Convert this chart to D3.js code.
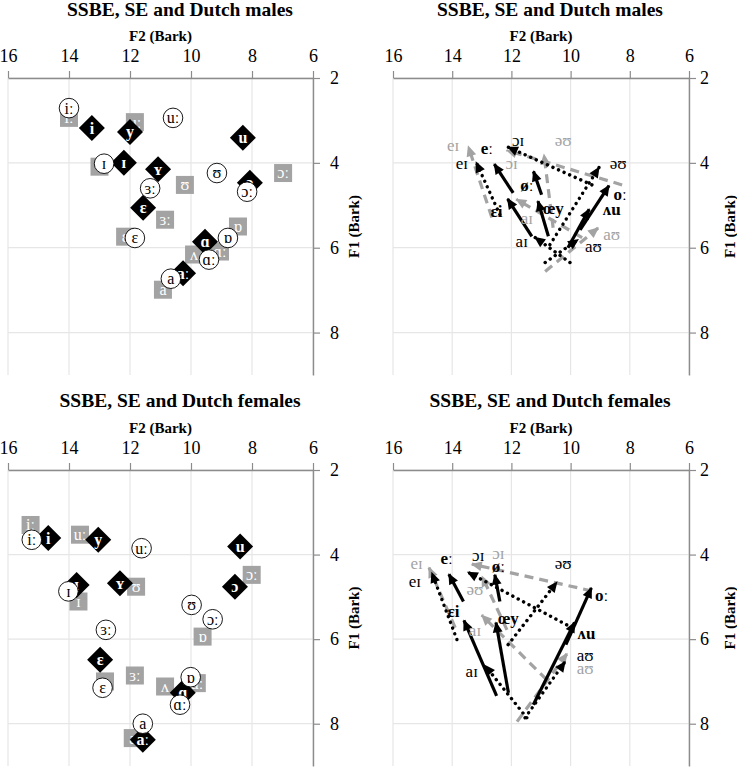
<!DOCTYPE html>
<html><head><meta charset="utf-8">
<script src="https://cdn.jsdelivr.net/npm/d3@7"></script>
<style>
body{margin:0;background:#fff}
svg text{font-family:"Liberation Serif","DejaVu Serif","Times New Roman",serif !important}
</style>
</head><body>
<svg id="c" width="737" height="767"></svg>
<script>
// ---------- data ----------
const f2Ticks = [16, 14, 12, 10, 8, 6];
const f1Ticks = [2, 4, 6, 8];
const f2Domain = [16, 6];
const f1Domain = [2, 9];
const titles = ["SSBE, SE and Dutch males", "SSBE, SE and Dutch males",
                "SSBE, SE and Dutch females", "SSBE, SE and Dutch females"];
const xTitle = "F2 (Bark)";
const yTitle = "F1 (Bark)";

// monophthongs: [vowel, F2, F1]
const maleSSBE = [["iː",14.0,2.71],["uː",10.59,2.94],["ɪ",12.85,4.02],["ʊ",9.15,4.24],["ɔː",8.16,4.68],
  ["ɜː",11.34,4.6],["ɛ",11.84,5.77],["ɒ",8.79,5.77],["ɑː",9.41,6.28],["a",10.66,6.73]];
const maleSE = [["iː",14.0,2.94],["uː",11.84,3.04],["ɪ",13.0,4.09],["ʊ",10.2,4.52],["ɔː",6.98,4.24],
  ["ɜː",10.85,5.34],["ɛ",12.16,5.74],["ɒ",8.46,5.5],["ɑː",9.05,6.09],["ʌ",9.9,6.16],["a",10.92,6.99]];
const maleDutch = [["i",13.25,3.18],["y",12.0,3.27],["u",8.3,3.41],["ɪ",12.2,4.0],["ʏ",11.08,4.15],
  ["ɔ",8.07,4.47],["ɛ",11.57,5.06],["ɑ",9.54,5.86],["aː",10.26,6.6]];

const femaleSSBE = [["iː",15.22,3.65],["uː",11.62,3.85],["ɪ",14.02,4.87],["ʊ",9.98,5.19],["ɔː",9.29,5.53],
  ["ɜː",12.79,5.78],["ɛ",12.9,7.15],["ɒ",10.01,6.9],["ɑː",10.36,7.55],["a",11.58,8.0]];
const femaleSE = [["iː",15.26,3.3],["uː",13.64,3.53],["ɪ",13.69,5.11],["ʊ",11.8,4.76],["ɔː",8.01,4.48],
  ["ɒ",9.62,5.94],["ɛ",12.82,7.0],["ɜː",11.84,6.86],["ʌ",10.85,7.12],["ɑː",9.81,7.04],["a",11.91,8.34]];
const femaleDutch = [["i",14.68,3.61],["y",13.04,3.65],["u",8.39,3.81],["ɪ",13.75,4.72],["ʏ",12.33,4.68],
  ["ɔ",8.56,4.76],["ɛ",12.98,6.49],["ɑ",10.27,7.27],["aː",11.58,8.38]];

// diphthongs: [vowel, startF2, startF1, endF2, endF1, labelF2, labelF1]
const maleDiphSSBE = [["eɪ",12.39,5.22,13.26,3.88,13.67,4.0],["ɔɪ",9.28,4.52,12.27,3.58,11.77,3.46],
  ["əʊ",10.7,5.93,8.95,4.01,8.39,4.01],["aɪ",10.02,6.35,11.34,5.69,11.65,5.85],["aʊ",10.86,6.35,9.61,5.74,9.23,5.97]];
const maleDiphSE = [["eɪ",12.66,5.29,13.51,3.5,13.97,3.58],["ɔɪ",8.26,4.52,12.32,3.67,11.99,4.01],
  ["əʊ",10.59,5.53,10.92,3.69,10.25,3.46],["aɪ",9.61,5.76,11.98,4.8,11.48,5.3],["aʊ",10.86,6.56,8.94,5.46,8.61,5.69]];
const maleDiphDutch = [["eː",11.94,4.71,12.67,3.93,12.83,3.65],["øː",10.98,4.75,11.31,4.09,11.48,4.52],
  ["œy",10.75,5.73,11.15,4.79,10.58,5.07],["ɛi",11.31,5.73,12.22,4.75,12.5,5.15],
  ["ʌu",10.09,6.0,9.29,4.99,8.61,5.1],["oː",9.68,5.58,8.61,4.44,8.33,4.75]];

const femaleDiphSSBE = [["eɪ",13.84,6.01,14.75,4.32,15.26,4.64],["ɔɪ",9.95,5.73,13.62,4.36,13.12,4.01],
  ["əʊ",12.11,6.13,10.36,4.56,10.25,4.2],["aɪ",11.48,7.86,13.0,6.53,13.34,6.76],["aʊ",11.54,7.86,10.09,6.44,9.51,6.37]];
const femaleDiphSE = [["eɪ",13.9,5.73,14.85,4.2,15.2,4.2],["ɔɪ",9.28,4.86,13.5,4.2,12.44,3.97],
  ["əʊ",12.15,5.78,13.06,4.41,13.23,4.83],["aɪ",10.81,6.96,13.12,5.35,13.23,5.78],["aʊ",11.81,7.95,10.02,6.25,9.51,6.68]];
const femaleDiphDutch = [["eː",13.62,5.11,14.19,4.36,14.19,4.09],["øː",12.39,5.11,12.59,4.36,12.44,4.28],
  ["œy",12.1,7.27,12.55,5.49,12.1,5.5],["ɛi",12.5,7.34,13.67,5.45,13.96,5.35],
  ["ʌu",11.26,7.55,9.79,5.5,9.46,5.86],["oː",10.16,6.13,9.23,4.68,8.95,4.95]];

// ---------- layout ----------
const FONT = '"Liberation Serif","DejaVu Serif","Times New Roman",serif';
const svg = d3.select("#c");
const GRAY = "#a3a3a3", AXIS = "#8c8c8c", GRID = "#e6e6e6";
const panels = [
  {x0:8, x1:313, y0:78, y1:375, tx:180, ty:16, pad:10, kind:"mono", ssbe:maleSSBE, se:maleSE, du:maleDutch},
  {x0:393, x1:689, y0:78, y1:375, tx:550, ty:16, pad:4, kind:"diph", ssbe:maleDiphSSBE, se:maleDiphSE, du:maleDiphDutch},
  {x0:8, x1:313, y0:470, y1:766, tx:180, ty:407, pad:10, kind:"mono", ssbe:femaleSSBE, se:femaleSE, du:femaleDutch},
  {x0:393, x1:689, y0:470, y1:766, tx:550, ty:407, pad:4, kind:"diph", ssbe:femaleDiphSSBE, se:femaleDiphSE, du:femaleDiphDutch}
];

const defs = svg.append("defs");
function mk(id, color){
  defs.append("marker").attr("id", id).attr("viewBox","0 0 10 10").attr("refX",9).attr("refY",5)
    .attr("markerUnits","userSpaceOnUse").attr("markerWidth",12).attr("markerHeight",11).attr("orient","auto")
    .append("path").attr("d","M0,0.5 L10,5 L0,9.5 Z").attr("fill", color);
}
mk("hBlack","#000"); mk("hGray", GRAY);

panels.forEach((p, i) => {
  const x = d3.scaleLinear().domain(f2Domain).range([p.x0, p.x1]);
  const y = d3.scaleLinear().domain(f1Domain).range([p.y0, p.y1]);
  const g = svg.append("g").attr("font-family", FONT);

  // grid
  g.selectAll(".vg").data(f2Ticks).join("line")
    .attr("x1", d => x(d)).attr("x2", d => x(d)).attr("y1", p.y0).attr("y2", p.y1)
    .attr("stroke", GRID).attr("stroke-width", 1.2);
  g.selectAll(".hg").data(f1Ticks).join("line")
    .attr("x1", p.x0).attr("x2", p.x1).attr("y1", d => y(d)).attr("y2", d => y(d))
    .attr("stroke", GRID).attr("stroke-width", 1.2);

  // axes
  const ax = g.append("g").attr("transform", `translate(0,${p.y0})`)
    .call(d3.axisTop(x).tickValues(f2Ticks).tickFormat(d3.format("d")).tickSize(7).tickSizeOuter(0).tickPadding(9));
  const ay = g.append("g").attr("transform", `translate(${p.x1},0)`)
    .call(d3.axisRight(y).tickValues(f1Ticks).tickFormat(d3.format("d")).tickSize(7).tickSizeOuter(0).tickPadding(p.pad));
  [ax, ay].forEach(a => {
    a.attr("font-family", FONT);
    a.select(".domain").attr("stroke", AXIS).attr("stroke-width", 1.4);
    a.selectAll(".tick line").attr("stroke", AXIS).attr("stroke-width", 1.2);
    a.selectAll(".tick text").attr("font-size", 18).attr("fill", "#000").attr("font-family", FONT);
  });

  // titles
  g.append("text").attr("x", p.tx).attr("y", p.ty).attr("text-anchor","middle")
    .attr("font-size", 19.5).attr("font-weight","bold").text(titles[i]);
  g.append("text").attr("x", (p.x0 + p.x1) / 2).attr("y", p.y0 - 37).attr("text-anchor","middle")
    .attr("font-size", 15).attr("font-weight","bold").text(xTitle);
  const fy = (p.y0 + p.y1) / 2;
  const fx = p.x1 + 46;
  g.append("text").attr("transform", `translate(${fx},${fy}) rotate(-90)`).attr("text-anchor","middle")
    .attr("font-size", 15).attr("font-weight","bold").text(yTitle);

  if (p.kind === "mono") {
    const s = 18;
    g.selectAll(".sq").data(p.se).join("rect")
      .attr("x", d => x(d[1]) - s/2).attr("y", d => y(d[2]) - s/2).attr("width", s).attr("height", s)
      .attr("fill", GRAY);
    g.selectAll(".sqt").data(p.se).join("text")
      .attr("x", d => x(d[1])).attr("y", d => y(d[2])).attr("dy","0.34em").attr("text-anchor","middle")
      .attr("font-size", 16).attr("fill", "#fff").text(d => d[0]);
    const dd = 13;
    g.selectAll(".dm").data(p.du).join("path")
      .attr("d", d => { const cx = x(d[1]), cy = y(d[2]);
        return `M${cx},${cy-dd} L${cx+dd},${cy} L${cx},${cy+dd} L${cx-dd},${cy} Z`; })
      .attr("fill", "#000");
    g.selectAll(".dmt").data(p.du).join("text")
      .attr("x", d => x(d[1])).attr("y", d => y(d[2])).attr("dy","0.34em").attr("text-anchor","middle")
      .attr("font-size", 16).attr("font-weight","bold").attr("fill", "#fff").text(d => d[0]);
    g.selectAll(".ci").data(p.ssbe).join("circle")
      .attr("cx", d => x(d[1])).attr("cy", d => y(d[2])).attr("r", 9.8)
      .attr("fill", "#fff").attr("stroke", "#000").attr("stroke-width", 0.9);
    g.selectAll(".cit").data(p.ssbe).join("text")
      .attr("x", d => x(d[1])).attr("y", d => y(d[2])).attr("dy","0.34em").attr("text-anchor","middle")
      .attr("font-size", 16).attr("fill", "#000").text(d => d[0]);
  } else {
    function arrows(data, cls, color, dash, width, head, cap) {
      g.selectAll("." + cls).data(data).join("line")
        .attr("x1", d => x(d[1])).attr("y1", d => y(d[2]))
        .attr("x2", d => { const dx = x(d[3]) - x(d[1]), dy = y(d[4]) - y(d[2]); const L = Math.hypot(dx, dy);
          return x(d[3]) - dx / L * 5; })
        .attr("y2", d => { const dx = x(d[3]) - x(d[1]), dy = y(d[4]) - y(d[2]); const L = Math.hypot(dx, dy);
          return y(d[4]) - dy / L * 5; })
        .attr("stroke", color).attr("stroke-width", width).attr("stroke-dasharray", dash)
        .attr("stroke-linecap", cap).attr("marker-end", `url(#${head})`);
    }
    arrows(p.se, "se", GRAY, "9,6", 3.2, "hGray", "butt");
    arrows(p.ssbe, "ss", "#000", "0.1,6", 3.4, "hBlack", "round");
    arrows(p.du, "du", "#000", null, 3.2, "hBlack", "butt");
    const lab = (data, color, weight) => g.selectAll(null).data(data).join("text")
      .attr("x", d => x(d[5])).attr("y", d => y(d[6])).attr("dy","0.34em").attr("text-anchor","middle")
      .attr("font-size", 17).attr("fill", color).attr("font-weight", weight).text(d => d[0]);
    lab(p.se, GRAY, "normal");
    lab(p.ssbe, "#000", "normal");
    lab(p.du, "#000", "bold");
  }
});
</script>
</body></html>
